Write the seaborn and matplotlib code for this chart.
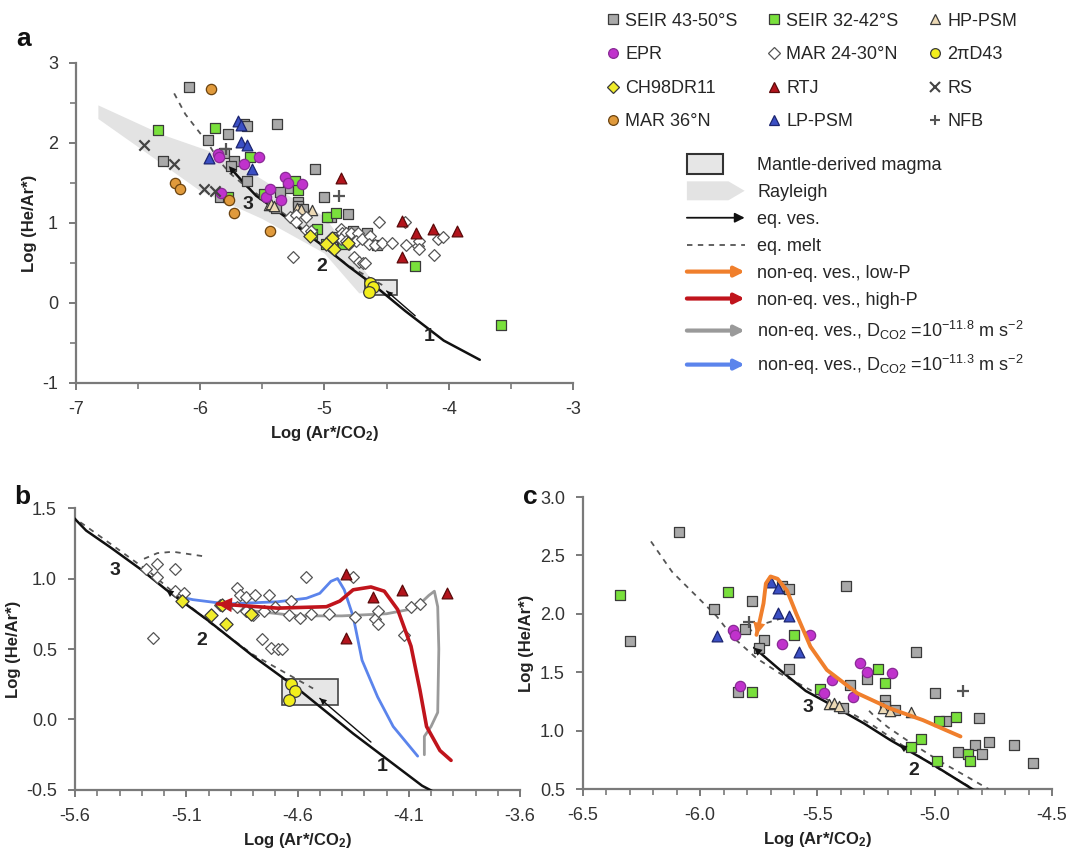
import numpy as np
import pandas as pd
import matplotlib
matplotlib.use("Agg")
import matplotlib.pyplot as plt
import seaborn as sns
from matplotlib.lines import Line2D
from matplotlib.patches import Polygon, Rectangle, FancyArrowPatch, Patch
from matplotlib.legend_handler import HandlerBase
from matplotlib.ticker import MultipleLocator, FixedLocator, FormatStrFormatter

sns.set_theme(style="ticks")
plt.rcParams["font.family"] = ["Liberation Sans", "DejaVu Sans"]
plt.rcParams["mathtext.fontset"] = "custom"
plt.rcParams["mathtext.rm"] = "Liberation Sans"
plt.rcParams["mathtext.it"] = "Liberation Sans:italic"
plt.rcParams["mathtext.bf"] = "Liberation Sans:bold"

# ---- sample data: log(Ar*/CO2), log(He/Ar*) ----
seir4350_x = [-6.09, -6.30, -5.94, -5.78, -5.81, -5.73, -5.75, -5.65, -5.62, -5.62, -5.38, -5.08, -5.29, -5.36,
              -5.84, -5.39, -5.21, -5.21, -5.17, -5.00, -4.95, -4.81, -4.90, -4.83, -4.80, -4.77, -4.66, -4.58]
seir4350_y = [2.70, 1.77, 2.04, 2.11, 1.87, 1.78, 1.71, 2.24, 2.21, 1.53, 2.24, 1.67, 1.44, 1.39,
              1.33, 1.19, 1.26, 1.21, 1.18, 1.32, 1.08, 1.11, 0.82, 0.88, 0.80, 0.90, 0.88, 0.72]
seir3242_x = [-6.34, -5.88, -5.78, -5.60, -5.49, -5.24, -5.21, -5.06, -5.10, -4.98, -4.91, -4.99, -4.86, -4.85, -4.27, -3.58]
seir3242_y = [2.16, 2.19, 1.33, 1.82, 1.36, 1.53, 1.41, 0.93, 0.86, 1.08, 1.12, 0.74, 0.80, 0.74, 0.46, -0.27]
hppsm_x = [-5.45, -5.43, -5.41, -5.22, -5.19, -5.10]
hppsm_y = [1.23, 1.24, 1.21, 1.19, 1.17, 1.16]
epr_x = [-5.86, -5.85, -5.83, -5.65, -5.53, -5.47, -5.44, -5.35, -5.32, -5.29, -5.18]
epr_y = [1.86, 1.82, 1.38, 1.74, 1.82, 1.32, 1.43, 1.29, 1.58, 1.50, 1.49]
mar2430_x = [-5.28, -5.23, -5.23, -5.15, -5.25, -5.15, -5.11, -4.56, -4.35, -4.95, -4.87, -4.86, -4.83, -4.79,
             -4.73, -4.87, -4.83, -4.80, -4.75, -4.70, -4.63, -4.64, -4.59, -4.54, -4.46, -4.34, -4.25, -4.24,
             -4.24, -4.09, -4.05, -4.12, -4.76, -4.72, -4.69, -4.67]
mar2430_y = [1.07, 1.10, 1.01, 1.07, 0.58, 0.91, 0.90, 1.01, 1.01, 0.81, 0.93, 0.88, 0.87, 0.88,
             0.88, 0.80, 0.77, 0.74, 0.77, 0.80, 0.84, 0.74, 0.72, 0.75, 0.75, 0.73, 0.71, 0.77,
             0.68, 0.80, 0.82, 0.60, 0.57, 0.51, 0.50, 0.50]
d43_x = [-4.63, -4.61, -4.64]
d43_y = [0.25, 0.20, 0.14]
ch98_x = [-5.12, -4.94, -4.92, -4.81, -4.99]
ch98_y = [0.84, 0.81, 0.68, 0.75, 0.74]
rtj_x = [-4.87, -4.38, -4.26, -4.13, -3.93, -4.38]
rtj_y = [1.56, 1.03, 0.87, 0.92, 0.90, 0.58]
rs_x = [-6.45, -6.21, -5.97, -5.88]
rs_y = [1.97, 1.74, 1.43, 1.40]
mar36_x = [-5.91, -6.20, -6.16, -5.77, -5.73, -5.44]
mar36_y = [2.67, 1.50, 1.42, 1.29, 1.12, 0.90]
lppsm_x = [-5.93, -5.70, -5.67, -5.67, -5.62, -5.58]
lppsm_y = [1.81, 2.27, 2.22, 2.01, 1.98, 1.67]
nfb_x = [-5.79, -4.88]
nfb_y = [1.93, 1.34]

# ---- model curves ----
eqves_x = [-5.77, -5.66, -5.55, -5.44, -5.30, -5.19, -5.00, -4.80, -4.60, -4.35, -4.04, -3.75]
eqves_y = [1.71, 1.52, 1.34, 1.22, 1.06, 0.92, 0.70, 0.45, 0.22, -0.10, -0.47, -0.71]
eqves_box_x = [-4.27, -4.50]
eqves_box_y = [-0.16, 0.15]
melt_x = [-6.21, -6.12, -6.03, -5.93, -5.86, -5.76, -5.66, -5.55, -5.40, -5.26, -5.12, -4.98, -4.80, -4.62, -4.53]
melt_y = [2.62, 2.36, 2.18, 1.98, 1.80, 1.62, 1.49, 1.37, 1.20, 1.04, 0.85, 0.67, 0.46, 0.30, 0.22]
melt_hook_b_x = [-5.29, -5.23, -5.16, -5.01]
melt_hook_b_y = [1.14, 1.18, 1.19, 1.155]
melt_hook_c_x = [-5.80, -5.72, -5.64]
melt_hook_c_y = [1.84, 1.92, 1.97]
melt_c3_x = [-5.28, -5.26, -5.20, -5.12, -4.98, -4.84, -4.77]
melt_c3_y = [1.17, 1.13, 1.03, 0.92, 0.74, 0.58, 0.50]
rayleigh_x = [-6.82, -6.30, -5.80, -5.30, -5.00, -4.75, -4.55, -4.72, -5.00, -5.50, -6.00, -6.50, -6.82]
rayleigh_y = [2.47, 2.10, 1.83, 1.35, 1.08, 0.55, 0.15, 0.12, 0.62, 1.05, 1.40, 1.95, 2.30]
mantle_x = [-4.67, -4.42]
mantle_y = [0.10, 0.29]
blue_x = [-4.06, -4.17, -4.24, -4.31, -4.35, -4.39, -4.42, -4.45, -4.50, -4.56, -4.69, -4.92, -5.07, -5.10]
blue_y = [-0.26, -0.05, 0.16, 0.42, 0.73, 0.92, 1.00, 0.98, 0.895, 0.86, 0.835, 0.82, 0.85, 0.86]
red_x = [-3.91, -3.96, -4.02, -4.05, -4.09, -4.15, -4.21, -4.27, -4.35, -4.41, -4.47, -4.69, -4.96]
red_y = [-0.29, -0.22, -0.05, 0.21, 0.52, 0.78, 0.91, 0.94, 0.92, 0.84, 0.80, 0.79, 0.82]
gray_x = [-4.03, -4.03, -4.00, -3.97, -3.965, -3.97, -3.985, -4.01, -4.05, -4.10, -4.20, -4.40, -4.60, -4.80, -4.95]
gray_y = [-0.25, -0.12, -0.05, 0.05, 0.50, 0.80, 0.91, 0.88, 0.82, 0.78, 0.75, 0.735, 0.735, 0.77, 0.80]
orange_x = [-4.89, -5.05, -5.19, -5.33, -5.46, -5.53, -5.59, -5.63, -5.67, -5.70, -5.72, -5.73, -5.745, -5.76]
orange_y = [0.95, 1.09, 1.19, 1.32, 1.52, 1.72, 2.00, 2.20, 2.30, 2.32, 2.26, 2.09, 1.95, 1.82]

b_xticks = [-5.6, -5.1, -4.6, -4.1, -3.6]

groups = {
    "SEIR 43-50°S": (seir4350_x, seir4350_y),
    "SEIR 32-42°S": (seir3242_x, seir3242_y),
    "HP-PSM": (hppsm_x, hppsm_y),
    "EPR": (epr_x, epr_y),
    "MAR 24-30°N": (mar2430_x, mar2430_y),
    "2πD43": (d43_x, d43_y),
    "CH98DR11": (ch98_x, ch98_y),
    "RTJ": (rtj_x, rtj_y),
    "RS": (rs_x, rs_y),
    "MAR 36°N": (mar36_x, mar36_y),
    "LP-PSM": (lppsm_x, lppsm_y),
    "NFB": (nfb_x, nfb_y),
}
df = pd.concat([pd.DataFrame({"ar_co2": v[0], "he_ar": v[1], "group": k}) for k, v in groups.items()],
               ignore_index=True)

ED = "#3a3a3a"
styles = {
    "SEIR 43-50°S": dict(marker="s", color="#a9a9a9", edgecolor=ED, s=48),
    "SEIR 32-42°S": dict(marker="s", color="#79e03c", edgecolor=ED, s=48),
    "HP-PSM": dict(marker="^", color="#ecd9b5", edgecolor=ED, s=55),
    "EPR": dict(marker="o", color="#c032cc", edgecolor="#8a2a96", s=55),
    "MAR 24-30°N": dict(marker="D", color="white", edgecolor="#555555", s=36),
    "2πD43": dict(marker="o", color="#f2ee1c", edgecolor=ED, s=70),
    "CH98DR11": dict(marker="D", color="#f0ec2a", edgecolor=ED, s=45),
    "RTJ": dict(marker="^", color="#b3141c", edgecolor="#5a0a0a", s=60),
    "RS": dict(marker="x", color="#444444", s=55),
    "MAR 36°N": dict(marker="o", color="#e09a3c", edgecolor="#6b4310", s=55),
    "LP-PSM": dict(marker="^", color="#3b4fc4", edgecolor="#1c2570", s=60),
    "NFB": dict(marker="+", color="#555555", s=75),
}

C_ORANGE = "#f07f2c"
C_RED = "#c0141c"
C_GRAY = "#9a9a9a"
C_BLUE = "#5b84ec"
SPINE = "#7a7a7a"


def draw_points(ax, names):
    for g in names:
        st = dict(styles[g])
        sub = df[df["group"] == g]
        lw = 1.6 if st["marker"] in ("x", "+") else 0.9
        sns.scatterplot(data=sub, x="ar_co2", y="he_ar", ax=ax, legend=False, zorder=4, linewidth=lw, **st)


def curve(ax, xs, ys, **kw):
    ax.plot(xs, ys, solid_capstyle="round", **kw)


def head(ax, tip, tail, color, scale=14, z=6):
    ax.annotate("", xy=tip, xytext=tail,
                arrowprops=dict(arrowstyle="-|>", color=color, lw=0.01, shrinkA=0, shrinkB=0,
                                mutation_scale=scale), zorder=z)


def mid_head(ax, xs, ys, xq, dx, color, scale=13):
    # xs increase along the curve, so np.interp can be used directly
    tip = (xq, np.interp(xq, xs, ys))
    tail = (xq + dx, np.interp(xq + dx, xs, ys))
    head(ax, tip, tail, color, scale)


def style_axes(ax, xlim, ylim, xmaj, xmin, ymaj, fmt_x, fmt_y):
    ax.set_xlim(*xlim)
    ax.set_ylim(*ylim)
    if np.iterable(xmaj):
        ax.xaxis.set_major_locator(FixedLocator(xmaj))
    else:
        ax.xaxis.set_major_locator(MultipleLocator(xmaj))
    ax.xaxis.set_minor_locator(MultipleLocator(xmin))
    ax.yaxis.set_major_locator(MultipleLocator(ymaj))
    ax.xaxis.set_major_formatter(FormatStrFormatter(fmt_x))
    ax.yaxis.set_major_formatter(FormatStrFormatter(fmt_y))
    for side in ("top", "right"):
        ax.spines[side].set_visible(False)
    for side in ("left", "bottom"):
        ax.spines[side].set_color(SPINE)
        ax.spines[side].set_linewidth(1.6)
    ax.tick_params(axis="both", which="major", direction="out", length=5, width=1.4, color=SPINE,
                   labelsize=13, labelcolor="#333333", pad=8)
    ax.tick_params(axis="both", which="minor", direction="out", length=4, width=1.2, color=SPINE)
    ax.set_xlabel(r"Log (Ar*/CO$_{\mathbf{2}}$)", fontsize=12, fontweight="bold", color="#222222")
    ax.set_ylabel("Log (He/Ar*)", fontsize=12, fontweight="bold", color="#222222")
    ax.grid(False)
    ax.set_facecolor("white")


def num(ax, x, y, t):
    ax.text(x, y, t, fontsize=14, fontweight="bold", color="#222222", ha="center", va="center", zorder=7)


fig = plt.figure(figsize=(10.72, 8.57), dpi=100)
fig.patch.set_facecolor("white")

# ---------------- panel a ----------------
ax_a = fig.add_axes([0.0709, 0.5531, 0.4636, 0.3734])
ax_a.add_patch(Polygon(np.column_stack([rayleigh_x, rayleigh_y]), closed=True, fc="#e3e3e3", ec="none", zorder=1))
ax_a.add_patch(Rectangle((mantle_x[0], mantle_y[0]), mantle_x[1] - mantle_x[0], mantle_y[1] - mantle_y[0],
                         fc="#e6e6e6", ec="#444444", lw=1.2, zorder=2))
curve(ax_a, melt_x, melt_y, color="#555555", lw=1.3, ls=(0, (3, 3)), zorder=3)
curve(ax_a, eqves_x, eqves_y, color="#111111", lw=1.8, zorder=3)
curve(ax_a, eqves_box_x, eqves_box_y, color="#111111", lw=1.0, zorder=3)
head(ax_a, (eqves_x[0], eqves_y[0]), (eqves_x[1], eqves_y[1]), "#111111")
head(ax_a, (eqves_box_x[-1], eqves_box_y[-1]), (eqves_box_x[0], eqves_box_y[0]), "#111111", scale=11)
draw_points(ax_a, list(groups.keys()))
style_axes(ax_a, (-7, -3), (-1, 3), 1, 0.5, 1, "%g", "%g")
ax_a.yaxis.set_minor_locator(MultipleLocator(0.5))
num(ax_a, -4.16, -0.42, "1")
num(ax_a, -5.02, 0.45, "2")
num(ax_a, -5.62, 1.23, "3")

# ---------------- panel b ----------------
ax_b = fig.add_axes([0.0700, 0.0782, 0.4151, 0.3290])
ax_b.add_patch(Rectangle((mantle_x[0], mantle_y[0]), mantle_x[1] - mantle_x[0], mantle_y[1] - mantle_y[0],
                         fc="#e6e6e6", ec="#444444", lw=1.2, zorder=2))
curve(ax_b, melt_x, melt_y, color="#555555", lw=1.3, ls=(0, (3, 3)), zorder=3)
curve(ax_b, melt_hook_b_x, melt_hook_b_y, color="#555555", lw=1.3, ls=(0, (3, 3)), zorder=3)
curve(ax_b, eqves_x, eqves_y, color="#111111", lw=1.8, zorder=3)
curve(ax_b, eqves_box_x, eqves_box_y, color="#111111", lw=1.0, zorder=3)
mid_head(ax_b, eqves_x, eqves_y, -5.19, 0.12, "#111111")
head(ax_b, (eqves_box_x[-1], eqves_box_y[-1]), (eqves_box_x[0], eqves_box_y[0]), "#111111", scale=12)
draw_points(ax_b, ["MAR 24-30°N", "CH98DR11", "2πD43", "RTJ"])
curve(ax_b, gray_x, gray_y, color=C_GRAY, lw=2.0, zorder=3.5)
curve(ax_b, blue_x, blue_y, color=C_BLUE, lw=2.0, zorder=3.5)
curve(ax_b, red_x, red_y, color=C_RED, lw=2.6, zorder=5)
head(ax_b, (red_x[-1], red_y[-1]), (red_x[-2], red_y[-2]), C_RED, scale=26)
style_axes(ax_b, (-5.6, -3.6), (-0.5, 1.5), b_xticks, 0.1, 0.5, "%.1f", "%.1f")
num(ax_b, -4.22, -0.33, "1")
num(ax_b, -5.03, 0.56, "2")
num(ax_b, -5.42, 1.06, "3")

# ---------------- panel c ----------------
ax_c = fig.add_axes([0.5438, 0.0793, 0.4375, 0.3407])
curve(ax_c, melt_x, melt_y, color="#555555", lw=1.3, ls=(0, (3, 3)), zorder=3)
curve(ax_c, melt_hook_c_x, melt_hook_c_y, color="#555555", lw=1.3, ls=(0, (3, 3)), zorder=3)
curve(ax_c, melt_c3_x, melt_c3_y, color="#555555", lw=1.3, ls=(0, (3, 3)), zorder=3)
curve(ax_c, eqves_x, eqves_y, color="#111111", lw=1.8, zorder=3)
head(ax_c, (eqves_x[0], eqves_y[0]), (eqves_x[1], eqves_y[1]), "#111111")
mid_head(ax_c, eqves_x, eqves_y, -5.15, 0.12, "#111111")
draw_points(ax_c, ["SEIR 43-50°S", "SEIR 32-42°S", "EPR", "LP-PSM", "HP-PSM", "NFB"])
curve(ax_c, orange_x, orange_y, color=C_ORANGE, lw=2.8, zorder=5)
head(ax_c, (orange_x[-1], orange_y[-1]), (orange_x[-2], orange_y[-2]), C_ORANGE, scale=22)
style_axes(ax_c, (-6.5, -4.5), (0.5, 3.0), 0.5, 0.1, 0.5, "%.1f", "%.1f")
num(ax_c, -5.09, 0.66, "2")
num(ax_c, -5.54, 1.20, "3")

for lab, x, y in (("a", 0.015, 0.955), ("b", 0.013, 0.42), ("c", 0.488, 0.42)):
    fig.text(x, y, lab, fontsize=19, fontweight="bold", color="#111111", ha="left", va="center")


# ---------------- legends ----------------
class ArrowHandler(HandlerBase):
    def create_artists(self, legend, orig, xd, yd, width, height, fontsize, trans):
        y = -yd + height / 2
        a = FancyArrowPatch((-xd, y), (-xd + width, y), arrowstyle="-|>", mutation_scale=fontsize * 1.1,
                            color=orig.get_color(), lw=orig.get_linewidth(), shrinkA=0, shrinkB=0)
        a.set_transform(trans)
        return [a]


class BandHandler(HandlerBase):
    def create_artists(self, legend, orig, xd, yd, width, height, fontsize, trans):
        x0, y0 = -xd, -yd
        h = height * 1.5
        yb = y0 - height * 0.25
        p = Polygon([(x0, yb), (x0 + 0.72 * width, yb), (x0 + width, yb + h / 2),
                     (x0 + 0.72 * width, yb + h), (x0, yb + h)], closed=True, fc="#e3e3e3", ec="none")
        p.set_transform(trans)
        return [p]


class BoxHandler(HandlerBase):
    def create_artists(self, legend, orig, xd, yd, width, height, fontsize, trans):
        x0, y0 = -xd, -yd
        r = Rectangle((x0, y0 - height * 0.3), width * 0.62, height * 1.6, fc="#e6e6e6", ec="#333333", lw=1.5)
        r.set_transform(trans)
        return [r]


order = ["SEIR 43-50°S", "EPR", "CH98DR11", "MAR 36°N",
         "SEIR 32-42°S", "MAR 24-30°N", "RTJ", "LP-PSM",
         "HP-PSM", "2πD43", "RS", "NFB"]
mk_handles = []
for g in order:
    st = styles[g]
    if st["marker"] in ("x", "+"):
        mk_handles.append(Line2D([], [], ls="none", marker=st["marker"], color=st["color"], markersize=7,
                                 markeredgewidth=1.5, label=g))
    else:
        mk_handles.append(Line2D([], [], ls="none", marker=st["marker"], markerfacecolor=st["color"],
                                 markeredgecolor=st["edgecolor"], markersize=7 if st["marker"] != "D" else 6,
                                 markeredgewidth=0.9, label=g))
fig.legend(handles=mk_handles, loc="upper left", bbox_to_anchor=(0.553, 1.0), ncol=3, frameon=False,
           fontsize=13, handlelength=0.8, handletextpad=0.3, columnspacing=1.6, labelspacing=0.92,
           borderaxespad=0.3)

h_box = Patch(label="Mantle-derived magma")
h_band = Patch(label="Rayleigh")
h_eq = Line2D([], [], color="#111111", lw=1.3, label="eq. ves.")
h_melt = Line2D([], [], color="#555555", lw=1.3, ls=(0, (3, 3)), label="eq. melt")
h_low = Line2D([], [], color=C_ORANGE, lw=3.0, label="non-eq. ves., low-P")
h_high = Line2D([], [], color=C_RED, lw=3.0, label="non-eq. ves., high-P")
h_gray = Line2D([], [], color=C_GRAY, lw=3.0, label=r"non-eq. ves., D$_{\mathrm{CO2}}$ =10$^{-11.8}$ m s$^{-2}$")
h_blue = Line2D([], [], color=C_BLUE, lw=3.0, label=r"non-eq. ves., D$_{\mathrm{CO2}}$ =10$^{-11.3}$ m s$^{-2}$")
arrow_h = ArrowHandler()
fig.legend(handles=[h_box, h_band, h_eq, h_melt, h_low, h_high, h_gray, h_blue],
           handler_map={h_box: BoxHandler(), h_band: BandHandler(), h_eq: arrow_h, h_low: arrow_h,
                        h_high: arrow_h, h_gray: arrow_h, h_blue: arrow_h},
           loc="upper left", bbox_to_anchor=(0.634, 0.825), frameon=False, fontsize=13,
           handlelength=3.2, handletextpad=0.7, labelspacing=0.55, borderaxespad=0.0)

fig.savefig("out.png", dpi=100, facecolor="white")
